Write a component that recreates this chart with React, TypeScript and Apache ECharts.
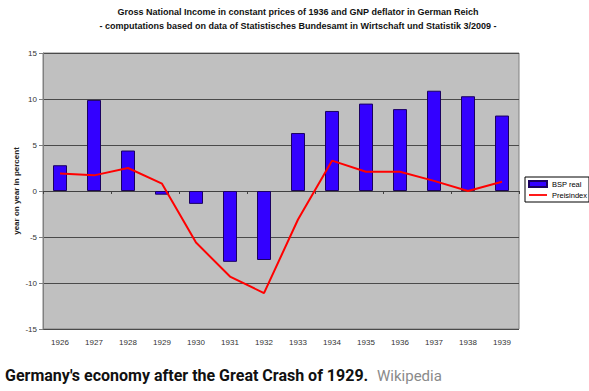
import React, { useEffect, useRef } from "react";
import * as echarts from "echarts";

const years = ["1926", "1927", "1928", "1929", "1930", "1931", "1932", "1933", "1934", "1935", "1936", "1937", "1938", "1939"];
const bspReal = [2.8, 9.9, 4.4, -0.4, -1.4, -7.7, -7.5, 6.3, 8.7, 9.5, 8.9, 10.9, 10.3, 8.2];
const preisindex = [1.9, 1.7, 2.5, 0.8, -5.6, -9.3, -11.1, -3.1, 3.3, 2.1, 2.1, 1.1, 0.0, 1.0];
const titleLines = [
  "Gross National Income in constant prices of 1936 and GNP deflator in German Reich",
  "- computations based on data of Statistisches Bundesamt in Wirtschaft und Statistik 3/2009 -",
];
const yAxisName = "year on year in percent";
const captionMain = "Germany's economy after the Great Crash of 1929.";
const captionSource = "Wikipedia";

export default function App() {
  const ref = useRef<HTMLDivElement>(null);
  useEffect(() => {
    if (!ref.current) return;
    const chart = echarts.init(ref.current, null, { renderer: "svg" });
    const font = "Liberation Sans, Arial, sans-serif";
    chart.setOption({
      animation: false,
      backgroundColor: "#ffffff",
      grid: {
        left: 43,
        right: 70,
        top: 53,
        bottom: 62,
        show: true,
        backgroundColor: "#c0c0c0",
        borderColor: "#808080",
        borderWidth: 1,
      },
      legend: {
        orient: "vertical",
        left: 525,
        top: 177,
        padding: [3, 2, 3, 3],
        itemGap: 3,
        itemWidth: 18,
        itemHeight: 6,
        backgroundColor: "#ffffff",
        borderColor: "#000000",
        borderWidth: 1,
        borderRadius: 0,
        textStyle: { fontSize: 7.5, fontFamily: font, color: "#000" },
        data: [
          { name: "BSP real", icon: "rect" },
          { name: "Preisindex", icon: "path://M0,0 H20 V2 H0 Z" },
        ],
      },
      xAxis: [
        {
          type: "category",
          data: years,
          position: "bottom",
          axisLine: { onZero: true, lineStyle: { color: "#404040", width: 1 } },
          axisTick: { show: true, length: 3, lineStyle: { color: "#404040" } },
          axisLabel: { show: false },
          splitLine: { show: false },
        },
        {
          type: "category",
          data: years,
          position: "bottom",
          axisLine: { show: false, onZero: false },
          axisTick: { show: false },
          axisLabel: { show: true, fontSize: 8, fontFamily: font, color: "#333", margin: 9 },
          splitLine: { show: false },
        },
      ],
      yAxis: {
        type: "value",
        min: -15,
        max: 15,
        interval: 5,
        name: yAxisName,
        nameLocation: "middle",
        nameGap: 23,
        nameMoveOverlap: false,
        nameTextStyle: { fontSize: 8, fontWeight: "bold", fontFamily: font, color: "#222" },
        axisLine: { show: true, lineStyle: { color: "#808080" } },
        axisTick: { show: true, length: 4, lineStyle: { color: "#808080" } },
        axisLabel: { fontSize: 8, fontFamily: font, color: "#333", margin: 6 },
        splitLine: { show: true, lineStyle: { color: "#4a4a4a", width: 1 } },
      },
      series: [
        {
          name: "BSP real",
          type: "bar",
          xAxisIndex: 0,
          data: bspReal,
          barWidth: 14,
          itemStyle: { color: "#3300ff", borderColor: "#1a0060", borderWidth: 1 },
        },
        {
          name: "Preisindex",
          type: "line",
          xAxisIndex: 0,
          data: preisindex,
          showSymbol: false,
          symbol: "none",
          lineStyle: { color: "#ff0000", width: 2 },
          itemStyle: { color: "#ff0000" },
        },
      ],
      graphic: [
        {
          type: "text",
          x: 298,
          y: 7,
          style: {
            text: titleLines[0],
            textAlign: "center",
            font: "bold 9px Liberation Sans, Arial, sans-serif",
            fill: "#111",
          },
        },
        {
          type: "text",
          x: 298,
          y: 21,
          style: {
            text: titleLines[1],
            textAlign: "center",
            font: "bold 9px Liberation Sans, Arial, sans-serif",
            fill: "#111",
          },
        },
        {
          type: "text",
          x: 5,
          y: 367,
          style: {
            text: captionMain,
            font: "bold 16px Roboto, sans-serif",
            fill: "#111",
          },
        },
        {
          type: "text",
          x: 377,
          y: 368,
          style: {
            text: captionSource,
            font: "15px Roboto, sans-serif",
            fill: "#8a8a8a",
          },
        },
      ],
    });
    return () => chart.dispose();
  }, []);
  return (
    <div
      ref={ref}
      style={{ position: "fixed", left: 0, top: 0, width: 589, height: 391 }}
    />
  );
}
